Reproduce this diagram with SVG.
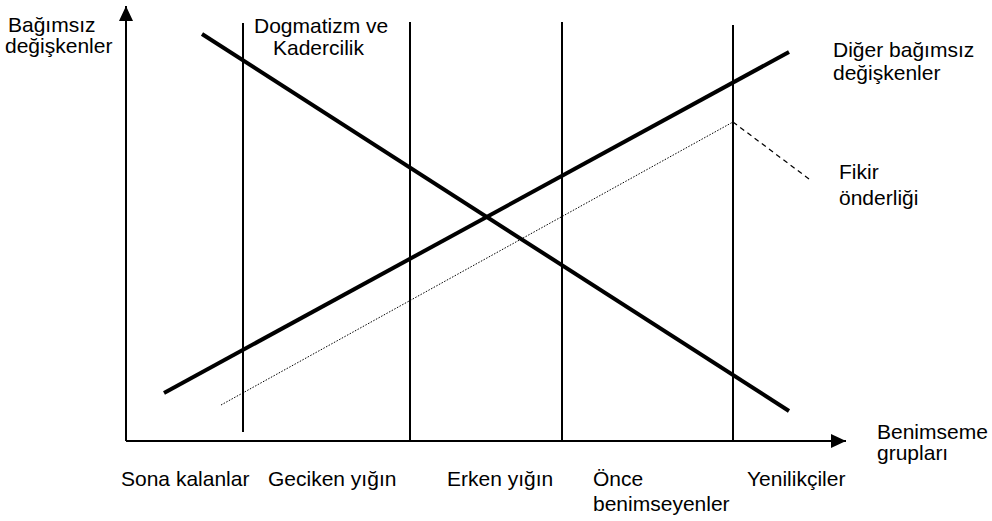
<svg xmlns="http://www.w3.org/2000/svg" width="992" height="521" viewBox="0 0 992 521">
<style>
text{font-family:"Liberation Sans",Arial,sans-serif;font-size:21px;fill:#000}
.thin{stroke:#000;stroke-width:2;fill:none}
.thick{stroke:#000;stroke-width:4;fill:none}
</style>
<defs>
<marker id="ah" markerWidth="15" markerHeight="14" refX="15" refY="7" orient="auto" markerUnits="userSpaceOnUse">
<path d="M0,0 L15,7 L0,14 Z" fill="#000"/>
</marker>
</defs>
<rect width="992" height="521" fill="#fff"/>
<g id="axes">
<line class="thin" x1="126" y1="441" x2="126" y2="6" marker-end="url(#ah)"/>
<line class="thin" x1="126" y1="441" x2="846" y2="441" marker-end="url(#ah)"/>
</g>
<g id="connectors">
<line class="thin" x1="243" y1="23" x2="243" y2="432"/>
<line class="thin" x1="410" y1="22" x2="410" y2="441"/>
<line class="thin" x1="562" y1="22" x2="562" y2="441"/>
<line class="thin" x1="733" y1="25" x2="733" y2="441"/>
<line class="thick" x1="202" y1="34" x2="789" y2="411"/>
<line class="thick" x1="164" y1="393" x2="789" y2="52"/>
<line stroke="#000" stroke-width="1" stroke-dasharray="1.5,1.5" x1="221" y1="405" x2="733" y2="122"/>
<line stroke="#000" stroke-width="1.2" stroke-dasharray="5,4" x1="733" y1="122" x2="809" y2="179"/>
</g>
<g id="y-label"><text x="8" y="32">Bağımsız</text><text x="5" y="53">değişkenler</text></g>
<g id="dogmatizm"><text x="254" y="33">Dogmatizm ve</text><text x="273" y="55">Kadercilik</text></g>
<g id="diger"><text x="833" y="57">Diğer bağımsız</text><text x="833" y="80">değişkenler</text></g>
<g id="fikir"><text x="839" y="179">Fikir</text><text x="839" y="205">önderliği</text></g>
<g id="x-label"><text x="877" y="439">Benimseme</text><text x="877" y="460">grupları</text></g>
<g id="groups">
<text x="121" y="486">Sona kalanlar</text>
<text x="268" y="486">Geciken yığın</text>
<text x="447" y="486">Erken yığın</text>
<text x="593" y="486">Önce</text>
<text x="593" y="511">benimseyenler</text>
<text x="747" y="486">Yenilikçiler</text>
</g>
</svg>
